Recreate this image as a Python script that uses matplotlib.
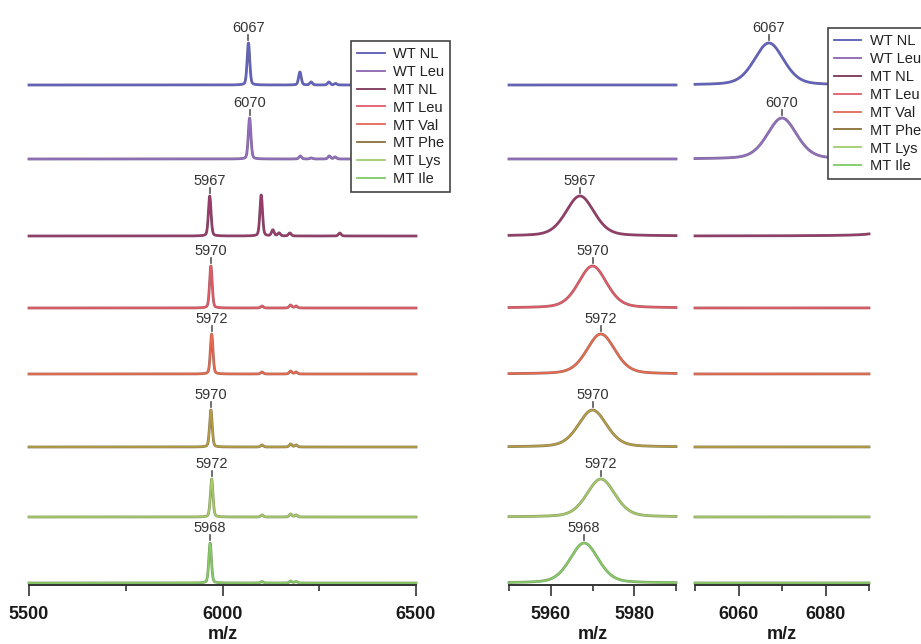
import numpy as np
import matplotlib
matplotlib.use("Agg")
import matplotlib.pyplot as plt
from matplotlib.lines import Line2D
import matplotlib.patheffects as pe

plt.rcParams['font.family'] = ['Liberation Sans', 'DejaVu Sans']

# ---------------- data ----------------
samples = ["WT NL", "WT Leu", "MT NL", "MT Leu", "MT Val", "MT Phe", "MT Lys", "MT Ile"]

# main (labelled) peak of each spectrum
main_peak_mz = [6067, 6070, 5967, 5970, 5972, 5970, 5972, 5968]
main_peak_height = [42, 41, 40, 42, 40, 37, 38, 40]

# minor peaks of each spectrum
minor_peak_mz = [
    [6200, 6229, 6275, 6292],
    [6201, 6229, 6276, 6291],
    [6100, 6130, 6146, 6174, 6303],
    [6102, 6176, 6190],
    [6102, 6176, 6190],
    [6102, 6176, 6190],
    [6102, 6176, 6190],
    [6102, 6176, 6190],
]
minor_peak_height = [
    [13, 3, 3, 1.5],
    [3, 1, 3, 2],
    [41, 6, 3, 3, 3],
    [2, 3, 2],
    [2, 3, 2],
    [2, 3, 2],
    [2, 3, 2],
    [1.5, 2, 1.5],
]

ranges = [(5500, 6500), (5950, 5990), (6050, 6090)]
major_ticks = [[5500, 6000, 6500], [5960, 5980], [6060, 6080]]
minor_ticks = [[5750, 6250], [5950, 5970, 5990], [6050, 6070, 6090]]

# ---------------- style ----------------
line_colors = ["#6262c4", "#9470c0", "#9a3a6a", "#e85a66", "#ee6a4c",
               "#b8a040", "#a8cc68", "#88cc66"]
edge_colors = ["#3e3e80", "#5a4078", "#5a2040", "#8c3a40", "#8c4434",
               "#6a5a30", "#6a8040", "#5a8a40"]
legend_colors = ["#5a5ab4", "#8a64b0", "#7a3458", "#e05a6a", "#e06a5a",
                 "#8a7038", "#a0cc6c", "#7ccc64"]
offsets = [500, 426, 349, 277, 211, 138, 68, 2]  # vertical stacking (px)
FWHM = 8.0
ETA = 0.3

W, H = 921, 644
fig = plt.figure(figsize=(W / 100, H / 100), dpi=100)

axis_y = 585
panels_px = [(29, 416), (509, 676), (695, 869)]


def spectrum(x, k):
    y = np.zeros_like(x)
    cs = [main_peak_mz[k]] + minor_peak_mz[k]
    hs = [main_peak_height[k]] + minor_peak_height[k]
    for c, h in zip(cs, hs):
        d = (x - c) / FWHM
        g = np.exp(-4 * np.log(2) * d ** 2)
        l = 1.0 / (1 + 4 * d ** 2)
        y += h * ((1 - ETA) * g + ETA * l)
    return y


axes = []
for p, (x0, x1) in enumerate(panels_px):
    ax = fig.add_axes([x0 / W, (H - axis_y) / H, (x1 - x0) / W, axis_y / H])
    ax.set_xlim(*ranges[p])
    ax.set_ylim(0, axis_y)
    for s in ['left', 'right', 'top']:
        ax.spines[s].set_visible(False)
    ax.spines['bottom'].set_color('#333333')
    ax.spines['bottom'].set_linewidth(1.4)
    ax.set_yticks([])
    ax.set_xticks(major_ticks[p])
    ax.set_xticks(minor_ticks[p], minor=True)
    ax.tick_params(axis='x', which='major', length=8, width=1.2, color='#333333',
                   labelsize=13, pad=7, labelcolor='#1a1a1a')
    ax.tick_params(axis='x', which='minor', length=4.5, width=1.2, color='#333333')
    for lab in ax.get_xticklabels():
        lab.set_fontweight('bold')
    ax.set_xlabel('m/z', fontsize=13, fontweight='bold', color='#1a1a1a', labelpad=2)

    lo, hi = ranges[p]
    x = np.linspace(lo, hi, 6000)
    for k in range(len(samples)):
        y = spectrum(x, k) + offsets[k]
        ax.plot(x, y, color=line_colors[k], lw=1.1, clip_on=False,
                path_effects=[pe.Stroke(linewidth=2.0, foreground=edge_colors[k], alpha=0.8),
                              pe.Normal()])
        c = main_peak_mz[k]
        if lo <= c <= hi:
            top = offsets[k] + spectrum(np.array([float(c)]), k)[0]
            ax.plot([c, c], [top + 3, top + 8], color='#555555', lw=1.2)
            ax.text(c, top + 11, str(c), ha='center', va='baseline',
                    fontsize=10.5, color='#333333')
    axes.append(ax)

handles = [Line2D([], [], color=legend_colors[k], lw=1.3) for k in range(len(samples))]
leg_kw = dict(loc='upper left', borderaxespad=0, fontsize=10.5, labelspacing=0.27,
              handlelength=1.9, handletextpad=0.6, borderpad=0.4, fancybox=False,
              framealpha=1, edgecolor='#444444', facecolor='white')
leg1 = axes[0].legend(handles, samples, bbox_to_anchor=(0.832, 0.930), **leg_kw)
leg1.get_frame().set_linewidth(1.2)
leg3 = axes[2].legend(handles, samples, bbox_to_anchor=(0.764, 0.952), **leg_kw)
leg3.get_frame().set_linewidth(1.2)
for leg in (leg1, leg3):
    for t in leg.get_texts():
        t.set_color('#222222')

fig.savefig('out.png', dpi=100)
